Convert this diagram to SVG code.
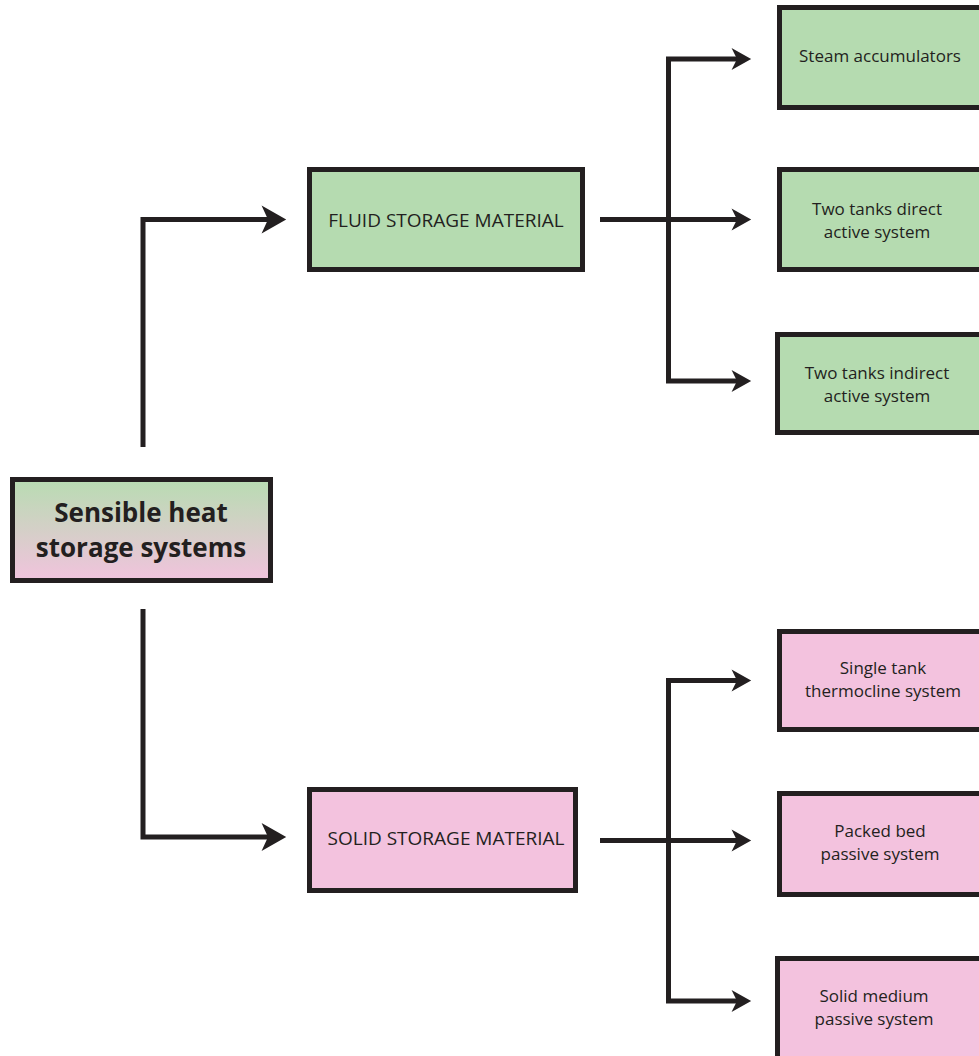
<svg xmlns="http://www.w3.org/2000/svg" width="979" height="1056" viewBox="0 0 979 1056">
  <style>
    .box { stroke: #231f20; stroke-width: 5; }
    .fluid { fill: #b5dbb0; }
    .solid { fill: #f3c2de; }
    .root { fill: url(#rootFill); }
    .lbl { font-family: "Open Sans", "Noto Sans", sans-serif; fill: #231f20; text-anchor: middle; }
    .title { font-size: 26px; font-weight: 700; }
    .mid { font-size: 19px; }
    .leaf { font-size: 17px; }
    .wire { fill: none; stroke: #231f20; stroke-width: 5; stroke-linejoin: miter; stroke-linecap: butt; }
    .big { marker-end: url(#headBig); }
    .small { marker-end: url(#headSmall); }
  </style>
  <defs>
    <linearGradient id="rootFill" x1="0" y1="0" x2="0" y2="1">
      <stop offset="0" stop-color="#b8dcb2"/>
      <stop offset="1" stop-color="#f1c3dd"/>
    </linearGradient>
    <marker id="headBig" markerUnits="userSpaceOnUse" markerWidth="30" markerHeight="30" viewBox="0 -14 24 28" refX="6" refY="0" orient="auto">
      <path d="M0,-13 L23,0 L0,13 L6,0 Z" fill="#231f20"/>
    </marker>
    <marker id="headSmall" markerUnits="userSpaceOnUse" markerWidth="24" markerHeight="24" viewBox="0 -11 19 22" refX="5" refY="0" orient="auto">
      <path d="M0,-10 L18,0 L0,10 L5,0 Z" fill="#231f20"/>
    </marker>
  </defs>

  <g id="connectors">
    <path class="wire big" d="M143,447 V219.5 H268"/>
    <path class="wire big" d="M143,609 V837 H268"/>
    <path class="wire small" d="M600,219.5 H737"/>
    <path class="wire small" d="M668.5,219.5 V59 H737"/>
    <path class="wire small" d="M668.5,219.5 V381 H737"/>
    <path class="wire small" d="M600,840.5 H737"/>
    <path class="wire small" d="M668.5,840.5 V680.5 H737"/>
    <path class="wire small" d="M668.5,840.5 V1001 H737"/>
  </g>

  <g id="sensible-heat">
    <rect class="box root" x="12.5" y="479.5" width="258" height="101"/>
    <text class="lbl title" x="141" y="522">Sensible heat</text>
    <text class="lbl title" x="141" y="557">storage systems</text>
  </g>

  <g id="fluid-storage">
    <rect class="box fluid" x="309.5" y="169.5" width="273" height="100"/>
    <text class="lbl mid" x="446" y="227">FLUID STORAGE MATERIAL</text>
  </g>

  <g id="solid-storage">
    <rect class="box solid" x="309.5" y="789.5" width="266" height="101"/>
    <text class="lbl mid" x="446" y="845">SOLID STORAGE MATERIAL</text>
  </g>

  <g id="steam-accumulators">
    <rect class="box fluid" x="779.5" y="7.5" width="215" height="100"/>
    <text class="lbl leaf" x="880" y="62">Steam accumulators</text>
  </g>

  <g id="two-tanks-direct">
    <rect class="box fluid" x="779.5" y="169.5" width="215" height="100"/>
    <text class="lbl leaf" x="877" y="215">Two tanks direct</text>
    <text class="lbl leaf" x="877" y="238">active system</text>
  </g>

  <g id="two-tanks-indirect">
    <rect class="box fluid" x="777.5" y="334.5" width="217" height="98"/>
    <text class="lbl leaf" x="877" y="379">Two tanks indirect</text>
    <text class="lbl leaf" x="877" y="402">active system</text>
  </g>

  <g id="single-tank">
    <rect class="box solid" x="779.5" y="631.5" width="215" height="98"/>
    <text class="lbl leaf" x="883" y="674">Single tank</text>
    <text class="lbl leaf" x="883" y="697">thermocline system</text>
  </g>

  <g id="packed-bed">
    <rect class="box solid" x="779.5" y="793.5" width="215" height="101"/>
    <text class="lbl leaf" x="880" y="837">Packed bed</text>
    <text class="lbl leaf" x="880" y="860">passive system</text>
  </g>

  <g id="solid-medium">
    <rect class="box solid" x="777.5" y="958.5" width="217" height="105"/>
    <text class="lbl leaf" x="874" y="1002">Solid medium</text>
    <text class="lbl leaf" x="874" y="1025">passive system</text>
  </g>
</svg>
